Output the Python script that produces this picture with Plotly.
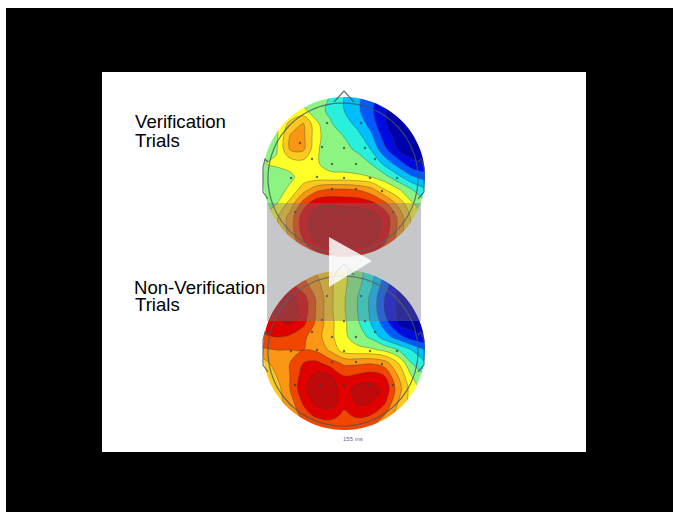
import numpy as np
import plotly.graph_objects as go

W, H = 673, 512
grid_x = [262, 276.5, 290, 303.5, 317, 330.5, 344, 357.5, 371, 384.5, 398, 411.5, 426]
head1_y = [95, 110, 124, 137, 150, 164, 177, 190, 204, 217, 230, 244, 259]
head2_y = [268, 285, 298, 311, 324, 337, 350, 363, 376, 389, 402, 415, 432]
head1_z = [
    [5.2, 5.2, 5.2, 5.2, 5.2, 5, 4, 3.2, 2.4, 1.5, 1, 0.6, 0.5],
    [5.2, 5.3, 5.7, 6.2, 5.3, 4.8, 4, 3.2, 2.2, 1.1, 0.6, 0.3, 0],
    [5.2, 5.6, 7.4, 8.1, 6.2, 5.1, 4.5, 3.7, 2.6, 1.1, 0.4, 0.2, 0],
    [5.3, 5.8, 8.1, 8.2, 6.3, 5.3, 5, 4.4, 3.3, 1.6, 0.6, 0.2, 0],
    [5.4, 5.9, 8, 8.1, 6.1, 5.5, 5.2, 4.9, 4, 2.3, 1, 0.4, 0.2],
    [5.9, 6.2, 6.3, 6.5, 6.1, 5.6, 5.5, 5.4, 5, 3.8, 2.6, 1.4, 1],
    [5.4, 5.3, 5.8, 6.4, 6.4, 6.3, 6.3, 6.2, 6, 5.4, 4.3, 3.2, 2.5],
    [5.5, 5.6, 6.2, 7.6, 8.8, 9.2, 9.2, 9, 8.4, 7.1, 6.2, 5.1, 4.2],
    [5.6, 6, 7.4, 9.6, 10.8, 10.9, 10.8, 10.8, 10.4, 9.4, 7.8, 6.2, 5.2],
    [6, 6.8, 8.4, 10.6, 11.5, 11.6, 11.6, 11.6, 11.5, 10.7, 8.8, 6.8, 5.8],
    [6, 6.8, 8.4, 10.6, 11.6, 11.6, 11.6, 11.6, 11.6, 10.7, 8.8, 6.8, 5.8],
    [6, 6.5, 8, 9.8, 11, 11.5, 11.5, 11.5, 11.1, 10, 8.5, 6.5, 6],
    [5.5, 6, 6.8, 8, 9, 9.4, 9.5, 9.4, 9, 8, 6.8, 6, 5.5],
]
head2_z = [
    [8.4, 8.4, 8.4, 8.4, 7.8, 7.2, 6.2, 5.5, 4.5, 3, 1.5, 1, 0.5],
    [9.4, 9.8, 10.2, 9.4, 8.3, 7.2, 6.2, 5.3, 4.2, 2.5, 1, 0.5, 0.2],
    [10.4, 11, 11.5, 10.4, 8.8, 7.2, 6.1, 5, 3.8, 2, 0.8, 0.3, 0],
    [10.5, 11.2, 11.5, 10.6, 8.8, 7.2, 6.1, 5, 3.8, 2, 0.8, 0.2, 0],
    [10.5, 10.8, 11, 10.2, 8.7, 7.3, 6.2, 5.2, 4, 2.6, 1, 0.5, 0.2],
    [9.8, 10, 9.8, 9.2, 8.4, 7.3, 6.2, 5.5, 4.8, 3.5, 2.5, 1.5, 1],
    [8.8, 9, 9, 9, 8.8, 7.8, 6.5, 6.3, 6.2, 5.8, 5, 4, 3],
    [7.5, 8.5, 9, 10, 10.2, 9.5, 8.8, 8.8, 8.9, 8.5, 7, 5, 4],
    [7, 8, 9, 10.5, 11.3, 11.1, 10, 10.2, 10.5, 10, 8, 6, 5],
    [6.5, 7.5, 9, 10.8, 11.6, 11.6, 10.4, 11.4, 11.4, 10.8, 8.5, 6.5, 5.5],
    [6, 7.5, 8.5, 10.2, 11.3, 11.6, 10.3, 11.2, 11, 10.2, 8, 6.5, 5.5],
    [6, 7, 8, 9.5, 10.3, 10.4, 9.8, 10.2, 10, 9, 7.5, 6.5, 5.5],
    [6, 6.5, 7, 8, 8.5, 9, 9, 9, 8.5, 8, 7, 6, 5.5],
]
electrode_x = [327, 361, 300, 322, 344, 365, 312, 332, 356, 375, 291, 317, 344, 370, 397, 332, 356, 382, 295, 320, 344, 368, 393]
electrode_y1 = [123, 123, 143, 147, 148, 148, 159, 164, 164, 159, 178, 177, 178, 178, 178, 189, 189, 191, 212, 212, 212, 212, 212]
electrode_y2 = [296, 296, 316, 320, 321, 321, 332, 337, 337, 332, 351, 350, 351, 351, 351, 362, 362, 364, 385, 385, 385, 385, 385]
level_colors = [(0, 0, 170), (0, 10, 225), (0, 90, 255), (0, 190, 255), (40, 240, 220), (140, 245, 130),
                (255, 255, 40), (255, 200, 30), (250, 150, 20), (240, 70, 0), (225, 0, 0), (190, 10, 10)]
scale = [[0, f"rgb{level_colors[0]}"]] + [[(i + 0.5) / 12, f"rgb{c}"] for i, c in enumerate(level_colors)] + [[1, f"rgb{level_colors[-1]}"]]


def ellipse(cx, cy, rx, ry, n=120):
    t = np.linspace(0, 2 * np.pi, n)
    pts = [f"{cx + rx * np.cos(a):.1f},{cy + ry * np.sin(a):.1f}" for a in t[:-1]]
    return "M" + " L".join(pts) + " Z"


fig = go.Figure()
for ys, z in ((head1_y, head1_z), (head2_y, head2_z)):
    fig.add_trace(go.Contour(
        x=grid_x, y=ys, z=z, zmin=0, zmax=12, colorscale=scale, showscale=False,
        autocontour=False, contours=dict(start=0, end=12, size=1, coloring="fill"),
        line=dict(color="rgba(50,60,50,0.45)", width=0.8, smoothing=1.0), hoverinfo="skip"))
for ey in (electrode_y1, electrode_y2):
    fig.add_trace(go.Scatter(x=electrode_x, y=ey, mode="markers", hoverinfo="skip",
                             marker=dict(size=2.5, color="rgba(50,60,60,0.7)")))

shapes = [
    dict(type="rect", x0=6, x1=W, y0=8, y1=H, fillcolor="black", line_width=0, layer="below"),
    dict(type="rect", x0=102, x1=586, y0=72, y1=452, fillcolor="white", line_width=0, layer="below"),
]
for cy, top, bot in ((177, 90, 264), (350, 264, 436)):
    mask = f"M255,{top} L433,{top} L433,{bot} L255,{bot} Z " + ellipse(344, cy, 81, 80)
    shapes.append(dict(type="path", path=mask, fillcolor="white", line_width=0, layer="above"))
line = dict(color="rgba(70,85,95,0.8)", width=1.2)
for cy in (177, 350):
    shapes.append(dict(type="path", path=ellipse(343, cy + 1, 75, 75), line=line, layer="above"))
    shapes.append(dict(type="path", path=f"M334,{cy-75} L344,{cy-86} L354,{cy-75}", line=line, layer="above"))
    shapes.append(dict(type="path", path=f"M268,{cy-15} L265,{cy-18} L263,{cy-10} L263,{cy+15} L268,{cy+22}", line=line, layer="above"))
    shapes.append(dict(type="path", path=f"M418,{cy-15} L421,{cy-18} L424,{cy-10} L424,{cy+15} L418,{cy+22}", line=line, layer="above"))
shapes.append(dict(type="rect", x0=267, x1=421, y0=203, y1=321, fillcolor="rgba(112,115,125,0.4)", line_width=0, layer="above"))
shapes.append(dict(type="path", path="M329,237 L372,261 L329,287 Z", fillcolor="rgba(255,255,255,0.85)", line_width=0, layer="above"))

font = dict(family="Liberation Sans", size=18.6, color="black")
texts = [("Verification", 133, 121.5, font), ("Trials", 133, 140, font),
         ("Non-Verification", 132, 287, font), ("Trials", 133, 304.5, font),
         ("155 ms", 353, 439, dict(family="Liberation Sans", size=6, color="#506a9a"))]
annotations = [dict(text=t, x=x, y=y, xref="x", yref="y", xanchor="center" if x > 300 else "left",
                    yanchor="middle", showarrow=False, font=f) for t, x, y, f in texts]

fig.update_layout(
    width=W, height=H, margin=dict(l=0, r=0, t=0, b=0), paper_bgcolor="white", plot_bgcolor="rgba(0,0,0,0)",
    xaxis=dict(range=[0, W], visible=False, fixedrange=True),
    yaxis=dict(range=[H, 0], visible=False, fixedrange=True),
    showlegend=False, shapes=shapes, annotations=annotations)
fig.write_html("out.html", config=dict(displayModeBar=False),
               post_script="document.body.style.margin='0';document.body.style.overflow='hidden';")
